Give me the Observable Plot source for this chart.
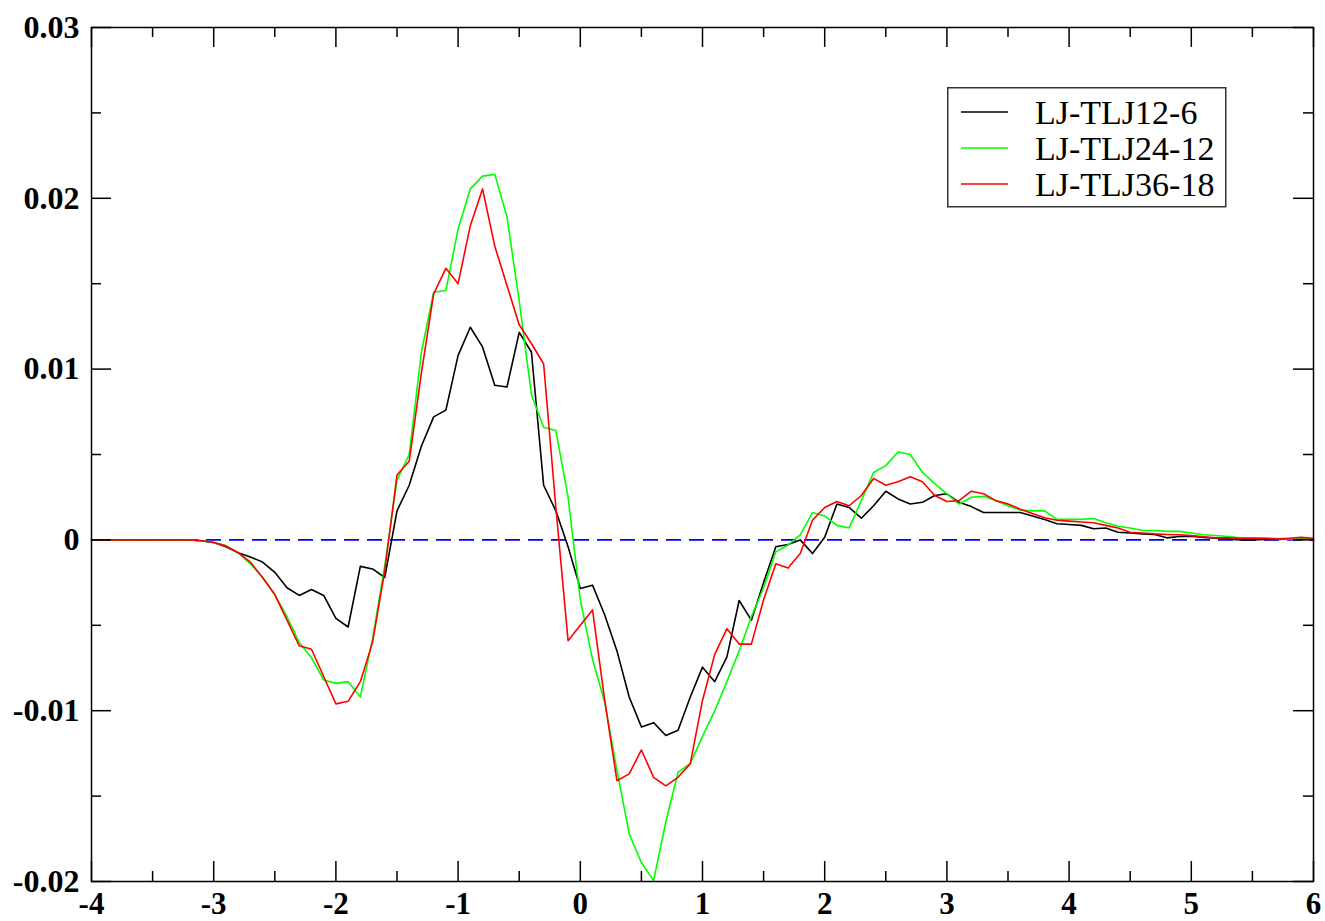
<!DOCTYPE html>
<html>
<head>
<meta charset="utf-8">
<script src="https://cdn.jsdelivr.net/npm/d3@7"></script>
<script src="https://cdn.jsdelivr.net/npm/@observablehq/plot@0.6"></script>
<style>
  html, body { margin: 0; padding: 0; background: #fff; overflow: hidden; }
  #wrap { position: relative; width: 1325px; height: 921px; }
  #legend { position: absolute; left: 947px; top: 87px; }
</style>
</head>
<body>
<div id="wrap"></div>
<script>
// ---- data ----
const xs = [
  -4.0,-3.9,-3.8,-3.7,-3.6,-3.5,-3.4,-3.3,-3.2,-3.1,
  -3.0,-2.9,-2.8,-2.7,-2.6,-2.5,-2.4,-2.3,-2.2,-2.1,
  -2.0,-1.9,-1.8,-1.7,-1.6,-1.5,-1.4,-1.3,-1.2,-1.1,
  -1.0,-0.9,-0.8,-0.7,-0.6,-0.5,-0.4,-0.3,-0.2,-0.1,
  0.0,0.1,0.2,0.3,0.4,0.5,0.6,0.7,0.8,0.9,
  1.0,1.1,1.2,1.3,1.4,1.5,1.6,1.7,1.8,1.9,
  2.0,2.1,2.2,2.3,2.4,2.5,2.6,2.7,2.8,2.9,
  3.0,3.1,3.2,3.3,3.4,3.5,3.6,3.7,3.8,3.9,
  4.0,4.1,4.2,4.3,4.4,4.5,4.6,4.7,4.8,4.9,
  5.0,5.1,5.2,5.3,5.4,5.5,5.6,5.7,5.8,5.9,
  6.0
];

const tlj12_6 = [
  0,0,0,0,0,0,0,0,0,-0.00005,
  -0.00015,-0.0004,-0.00075,-0.001,-0.0013,-0.0019,-0.0028,-0.00325,-0.0029,-0.00325,
  -0.0046,-0.0051,-0.00155,-0.0017,-0.0022,0.0017,0.0032,0.0055,0.0072,0.0076,
  0.0108,0.01245,0.0113,0.00905,0.00895,0.01215,0.011,0.0032,0.0017,-0.0004,
  -0.00285,-0.00265,-0.0044,-0.0065,-0.0092,-0.01095,-0.0107,-0.01145,-0.01115,-0.0092,
  -0.00745,-0.0083,-0.00685,-0.00355,-0.0047,-0.0025,-0.0004,-0.00027,0,-0.0008,
  0.00015,0.0021,0.0019,0.00127,0.002,0.00285,0.0024,0.0021,0.0022,0.0026,
  0.0027,0.0022,0.00195,0.0016,0.0016,0.0016,0.0016,0.0014,0.0012,0.00095,
  0.0009,0.00085,0.00065,0.0007,0.00045,0.0004,0.00035,0.00032,0.00012,0.0002,
  0.00022,0.00015,0.0001,0.00006,0,0,0.00002,0.00003,0.00005,0.00005,
  0.00003
];

const tlj24_12 = [
  0,0,0,0,0,0,0,0,0,-0.00005,
  -0.00015,-0.00035,-0.00075,-0.0014,-0.0022,-0.0032,-0.0045,-0.006,-0.0069,-0.0082,
  -0.0084,-0.0083,-0.0092,-0.0058,-0.0015,0.0035,0.005,0.011,0.0145,0.0146,
  0.0182,0.02055,0.0213,0.0214,0.0189,0.014,0.0085,0.0066,0.0064,0.0025,
  -0.0035,-0.007,-0.0095,-0.0135,-0.0172,-0.0189,-0.01995,-0.0165,-0.0136,-0.0131,
  -0.0115,-0.01,-0.0083,-0.0065,-0.0045,-0.0028,-0.0007,-0.0003,0.0003,0.0016,
  0.0014,0.00085,0.0007,0.0023,0.00395,0.00435,0.00515,0.005,0.00395,0.0033,
  0.0027,0.0021,0.0025,0.00255,0.0023,0.002,0.00175,0.0017,0.0017,0.0012,
  0.0012,0.0012,0.00125,0.001,0.0008,0.0007,0.00055,0.00055,0.0005,0.0005,
  0.0004,0.0003,0.00026,0.0002,0.00012,0.00012,0.0001,0.00008,0.00006,0.00006,
  0.00005
];

const tlj36_18 = [
  0,0,0,0,0,0,0,0,0,-0.00005,
  -0.00015,-0.00035,-0.00075,-0.0013,-0.0022,-0.0032,-0.0047,-0.0062,-0.0064,-0.008,
  -0.0096,-0.00945,-0.0083,-0.006,-0.0018,0.0038,0.0046,0.0098,0.0144,0.0159,
  0.015,0.0184,0.02055,0.0172,0.0149,0.0126,0.0115,0.0103,0.0019,-0.0059,
  -0.005,-0.0041,-0.0094,-0.0141,-0.0137,-0.0123,-0.0139,-0.0144,-0.0139,-0.0131,
  -0.0094,-0.0067,-0.0052,-0.0061,-0.0061,-0.0035,-0.0014,-0.00165,-0.0008,0.00115,
  0.0019,0.00225,0.002,0.0026,0.0036,0.0032,0.0034,0.0037,0.0034,0.0026,
  0.00225,0.0023,0.00285,0.0027,0.0023,0.0021,0.0018,0.00155,0.0013,0.00115,
  0.0011,0.00105,0.001,0.00085,0.0007,0.00045,0.0004,0.00035,0.00032,0.0003,
  0.00025,0.00018,0.00012,0.00012,0.0001,0.0001,0.0001,0.00005,0.0001,0.00015,
  0.0001
];

const seriesNames = ["LJ-TLJ12-6", "LJ-TLJ24-12", "LJ-TLJ36-18"];
const seriesValues = [tlj12_6, tlj24_12, tlj36_18];
const seriesColors = ["#000000", "#00ff00", "#ff0000"];

const xTicks = [-4,-3,-2,-1,0,1,2,3,4,5,6];
const xTickLabels = ["-4","-3","-2","-1","0","1","2","3","4","5","6"];
const xMinorTicks = [-3.5,-2.5,-1.5,-0.5,0.5,1.5,2.5,3.5,4.5,5.5];
const yTicks = [-0.02,-0.01,0,0.01,0.02,0.03];
const yTickLabels = ["-0.02","-0.01","0","0.01","0.02","0.03"];
const yMinorTicks = [-0.015,-0.005,0.005,0.015,0.025];
const zeroLine = [0];

// ---- chart ----
const W = 1325, H = 921;
const mL = 91, mR = 12, mT = 27, mB = 40;
const pw = W - mL - mR, ph = H - mT - mB;
const major = 20, minor = 10;

const rows = [];
seriesNames.forEach((name, s) => {
  xs.forEach((x, i) => rows.push({series: name, x, y: seriesValues[s][i]}));
});

const serif = "'Liberation Serif', 'Times New Roman', Times, serif";

const chart = Plot.plot({
  width: W, height: H,
  marginLeft: mL, marginRight: mR, marginTop: mT, marginBottom: mB,
  x: {domain: [-4, 6]},
  y: {domain: [-0.02, 0.03]},
  style: {fontFamily: serif, background: "#fff", overflow: "visible"},
  marks: [
    Plot.ruleY(zeroLine, {y: d => d, stroke: "#0000ff", strokeWidth: 1.6, strokeDasharray: "15,8"}),
    ...seriesNames.map((name, s) =>
      Plot.line(rows.filter(r => r.series === name), {x: "x", y: "y", stroke: seriesColors[s], strokeWidth: 1.6})
    ),
    Plot.frame({stroke: "#000", strokeWidth: 1.5}),
    // inward ticks: bottom / top
    Plot.tickX(xTicks, {x: d => d, insetTop: ph - major, stroke: "#000", strokeWidth: 1.5}),
    Plot.tickX(xTicks, {x: d => d, insetBottom: ph - major, stroke: "#000", strokeWidth: 1.5}),
    Plot.tickX(xMinorTicks, {x: d => d, insetTop: ph - minor, stroke: "#000", strokeWidth: 1.5}),
    Plot.tickX(xMinorTicks, {x: d => d, insetBottom: ph - minor, stroke: "#000", strokeWidth: 1.5}),
    // inward ticks: left / right
    Plot.tickY(yTicks, {y: d => d, insetRight: pw - major, stroke: "#000", strokeWidth: 1.5}),
    Plot.tickY(yTicks, {y: d => d, insetLeft: pw - major, stroke: "#000", strokeWidth: 1.5}),
    Plot.tickY(yMinorTicks, {y: d => d, insetRight: pw - minor, stroke: "#000", strokeWidth: 1.5}),
    Plot.tickY(yMinorTicks, {y: d => d, insetLeft: pw - minor, stroke: "#000", strokeWidth: 1.5}),
    Plot.axisX(xTicks, {
      tickSize: 0, tickPadding: 10, fontSize: 31, fontWeight: "bold", fill: "#000",
      tickFormat: d => xTickLabels[xTicks.indexOf(d)], label: null
    }),
    Plot.axisY(yTicks, {
      tickSize: 0, tickPadding: 12, fontSize: 32, fontWeight: "bold", fill: "#000",
      tickFormat: d => yTickLabels[yTicks.indexOf(d)], label: null
    })
  ]
});

const wrap = document.getElementById("wrap");
wrap.appendChild(chart);

// ---- legend ----
const lg = d3.select(wrap).append("svg")
  .attr("id", "legend")
  .attr("width", 280).attr("height", 121);
lg.append("rect")
  .attr("x", 0.75).attr("y", 0.75).attr("width", 278).attr("height", 119)
  .attr("fill", "#fff").attr("stroke", "#333").attr("stroke-width", 1.5);
seriesNames.forEach((name, i) => {
  const cy = 25 + i * 36;
  lg.append("line")
    .attr("x1", 14).attr("x2", 61).attr("y1", cy).attr("y2", cy)
    .attr("stroke", seriesColors[i]).attr("stroke-width", 1.6);
  lg.append("text")
    .attr("x", 88).attr("y", cy + 12)
    .attr("font-family", serif).attr("font-size", 34)
    .attr("fill", "#000")
    .text(name);
});
</script>
</body>
</html>
